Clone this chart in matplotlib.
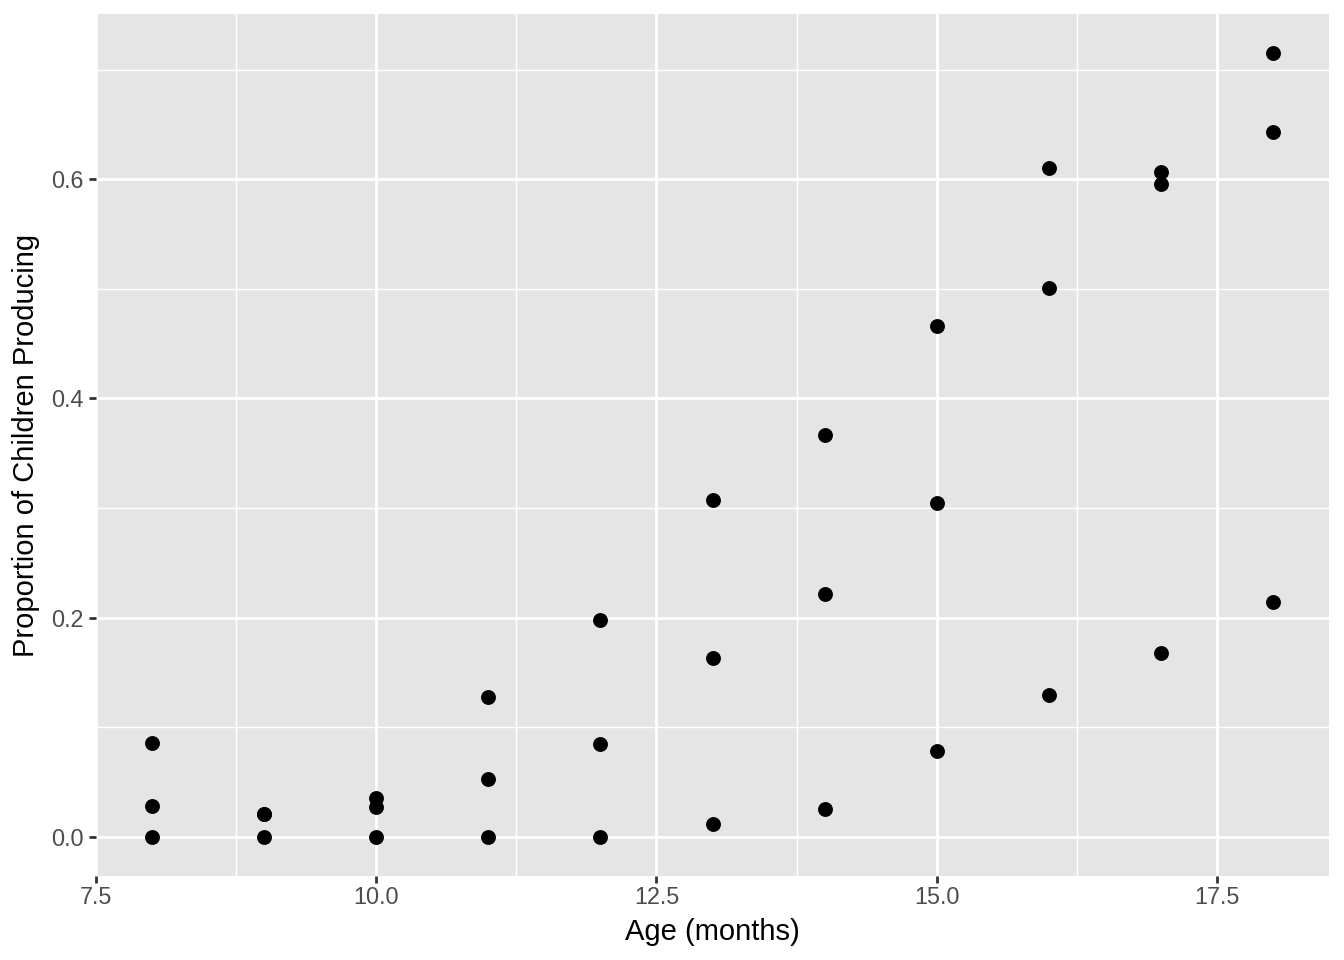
import matplotlib
matplotlib.use("Agg")
import matplotlib.pyplot as plt
from matplotlib.ticker import FixedLocator

plt.rcParams['font.family'] = ['Liberation Sans', 'DejaVu Sans']

age = [8, 8, 8, 9, 9, 9, 10, 10, 10, 11, 11, 11, 12, 12, 12,
       13, 13, 13, 14, 14, 14, 15, 15, 15, 16, 16, 16, 17, 17, 17, 18, 18, 18]
prop = [0.086, 0.028, 0.0, 0.021, 0.021, 0.0, 0.035, 0.027, 0.0,
        0.128, 0.053, 0.0, 0.198, 0.085, 0.0,
        0.307, 0.163, 0.012, 0.367, 0.222, 0.025,
        0.466, 0.305, 0.078, 0.610, 0.501, 0.129,
        0.607, 0.596, 0.168, 0.715, 0.643, 0.214]

x_ticks = [7.5, 10.0, 12.5, 15.0, 17.5]
x_minor = [8.75, 11.25, 13.75, 16.25]
y_ticks = [0.0, 0.2, 0.4, 0.6]
y_minor = [0.1, 0.3, 0.5, 0.7]

fig = plt.figure(figsize=(13.44, 9.6), dpi=100)
ax = fig.add_axes([96/1344, 1 - 876/960, (1329-96)/1344, (876-14)/960])
ax.set_facecolor('#E5E5E5')

ax.scatter(age, prop, s=115, color='black', linewidths=0, zorder=3)

xmin, xmax = min(age), max(age)
ymin, ymax = min(prop), max(prop)
xr, yr = xmax - xmin, ymax - ymin
ax.set_xlim(xmin - 0.05*xr, xmax + 0.05*xr)
ax.set_ylim(ymin - 0.05*yr, ymax + 0.05*yr)

ax.xaxis.set_major_locator(FixedLocator(x_ticks))
ax.xaxis.set_minor_locator(FixedLocator(x_minor))
ax.yaxis.set_major_locator(FixedLocator(y_ticks))
ax.yaxis.set_minor_locator(FixedLocator(y_minor))
ax.set_xticklabels([f"{v:.1f}" for v in x_ticks])
ax.set_yticklabels([f"{v:.1f}" for v in y_ticks])

ax.grid(which='major', color='white', linewidth=2.0, zorder=0)
ax.grid(which='minor', color='white', linewidth=1.0, zorder=0)
ax.set_axisbelow(True)

for s in ax.spines.values():
    s.set_visible(False)

ax.tick_params(which='major', length=5, width=2.0, color='#333333',
               labelcolor='#4D4D4D', labelsize=16.8)
ax.tick_params(axis='x', which='major', pad=2.5)
ax.tick_params(axis='y', which='major', pad=4)
ax.tick_params(which='minor', length=0)

ax.set_xlabel('Age (months)', fontsize=21, color='black', labelpad=6)
ax.set_ylabel('Proportion of Children Producing', fontsize=21, color='black', labelpad=8)

fig.savefig('out.png', dpi=100)
